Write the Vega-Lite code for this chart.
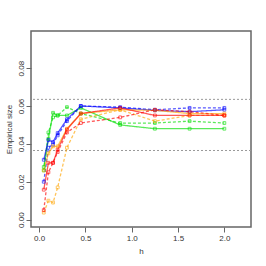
{
  "$schema": "https://vega.github.io/schema/vega-lite/v6.json",
  "width": 220,
  "height": 196,
  "autosize": {"type": "none"},
  "padding": {"left": 31, "top": 31, "right": 15, "bottom": 39},
  "config": {
    "view": {"stroke": "#666", "strokeWidth": 1.5},
    "font": "Liberation Sans",
    "axis": {"labelFont": "Liberation Sans", "titleFont": "Liberation Sans", "labelFontSize": 8, "titleFontSize": 8, "labelColor": "#333", "titleColor": "#333", "titleFontWeight": "normal", "grid": false, "domain": false, "tickColor": "#666", "tickSize": 5}
  },
  "datasets": {
    "d": [
      {"h":0.05,"col":"green","type":"solid","v":0.0278},{"h":0.1,"col":"green","type":"solid","v":0.0427},{"h":0.15,"col":"green","type":"solid","v":0.0564},{"h":0.2,"col":"green","type":"solid","v":0.055},{"h":0.3,"col":"green","type":"solid","v":0.055},{"h":0.45,"col":"green","type":"solid","v":0.059},{"h":0.875,"col":"green","type":"solid","v":0.050},{"h":1.25,"col":"green","type":"solid","v":0.048},{"h":1.625,"col":"green","type":"solid","v":0.048},{"h":2.0,"col":"green","type":"solid","v":0.048},
      {"h":0.05,"col":"green","type":"dashed","v":0.026},{"h":0.1,"col":"green","type":"dashed","v":0.046},{"h":0.15,"col":"green","type":"dashed","v":0.054},{"h":0.2,"col":"green","type":"dashed","v":0.055},{"h":0.3,"col":"green","type":"dashed","v":0.0594},{"h":0.45,"col":"green","type":"dashed","v":0.056},{"h":0.875,"col":"green","type":"dashed","v":0.051},{"h":1.25,"col":"green","type":"dashed","v":0.051},{"h":1.625,"col":"green","type":"dashed","v":0.052},{"h":2.0,"col":"green","type":"dashed","v":0.051},
      {"h":0.05,"col":"blue","type":"solid","v":0.0316},{"h":0.1,"col":"blue","type":"solid","v":0.042},{"h":0.15,"col":"blue","type":"solid","v":0.041},{"h":0.2,"col":"blue","type":"solid","v":0.0457},{"h":0.3,"col":"blue","type":"solid","v":0.053},{"h":0.45,"col":"blue","type":"solid","v":0.060},{"h":0.875,"col":"blue","type":"solid","v":0.059},{"h":1.25,"col":"blue","type":"solid","v":0.0577},{"h":1.625,"col":"blue","type":"solid","v":0.057},{"h":2.0,"col":"blue","type":"solid","v":0.058},
      {"h":0.05,"col":"blue","type":"dashed","v":0.020},{"h":0.1,"col":"blue","type":"dashed","v":0.038},{"h":0.15,"col":"blue","type":"dashed","v":0.0397},{"h":0.2,"col":"blue","type":"dashed","v":0.0445},{"h":0.3,"col":"blue","type":"dashed","v":0.052},{"h":0.45,"col":"blue","type":"dashed","v":0.060},{"h":0.875,"col":"blue","type":"dashed","v":0.0594},{"h":1.25,"col":"blue","type":"dashed","v":0.058},{"h":1.625,"col":"blue","type":"dashed","v":0.059},{"h":2.0,"col":"blue","type":"dashed","v":0.059},
      {"h":0.05,"col":"orange","type":"solid","v":0.026},{"h":0.1,"col":"orange","type":"solid","v":0.035},{"h":0.15,"col":"orange","type":"solid","v":0.0387},{"h":0.2,"col":"orange","type":"solid","v":0.0387},{"h":0.3,"col":"orange","type":"solid","v":0.048},{"h":0.45,"col":"orange","type":"solid","v":0.056},{"h":0.875,"col":"orange","type":"solid","v":0.058},{"h":1.25,"col":"orange","type":"solid","v":0.0577},{"h":1.625,"col":"orange","type":"solid","v":0.056},{"h":2.0,"col":"orange","type":"solid","v":0.056},
      {"h":0.05,"col":"orange","type":"dashed","v":0.0037},{"h":0.1,"col":"orange","type":"dashed","v":0.010},{"h":0.15,"col":"orange","type":"dashed","v":0.009},{"h":0.2,"col":"orange","type":"dashed","v":0.017},{"h":0.3,"col":"orange","type":"dashed","v":0.038},{"h":0.45,"col":"orange","type":"dashed","v":0.053},{"h":0.875,"col":"orange","type":"dashed","v":0.058},{"h":1.25,"col":"orange","type":"dashed","v":0.052},{"h":1.625,"col":"orange","type":"dashed","v":0.055},{"h":2.0,"col":"orange","type":"dashed","v":0.055},
      {"h":0.05,"col":"red","type":"solid","v":0.0158},{"h":0.1,"col":"red","type":"solid","v":0.030},{"h":0.15,"col":"red","type":"solid","v":0.030},{"h":0.2,"col":"red","type":"solid","v":0.037},{"h":0.3,"col":"red","type":"solid","v":0.0476},{"h":0.45,"col":"red","type":"solid","v":0.056},{"h":0.875,"col":"red","type":"solid","v":0.059},{"h":1.25,"col":"red","type":"solid","v":0.055},{"h":1.625,"col":"red","type":"solid","v":0.055},{"h":2.0,"col":"red","type":"solid","v":0.055},
      {"h":0.05,"col":"red","type":"dashed","v":0.005},{"h":0.1,"col":"red","type":"dashed","v":0.025},{"h":0.15,"col":"red","type":"dashed","v":0.030},{"h":0.2,"col":"red","type":"dashed","v":0.0357},{"h":0.3,"col":"red","type":"dashed","v":0.046},{"h":0.45,"col":"red","type":"dashed","v":0.051},{"h":0.875,"col":"red","type":"dashed","v":0.054},{"h":1.25,"col":"red","type":"dashed","v":0.058},{"h":1.625,"col":"red","type":"dashed","v":0.057},{"h":2.0,"col":"red","type":"dashed","v":0.055}
    ],
    "bands": [{"y": 0.0365}, {"y": 0.0635}]
  },
  "layer": [
    {
      "data": {"name": "bands"},
      "mark": {"type": "rule", "color": "#999", "strokeDash": [2, 2], "strokeWidth": 1},
      "encoding": {"y": {"field": "y", "type": "quantitative", "scale": {"domain": [-0.0039, 0.0996], "nice": false, "zero": false}}}
    },
    {
      "data": {"name": "d"},
      "mark": {"type": "line", "strokeWidth": 1.3, "opacity": 0.65, "clip": true},
      "encoding": {
        "x": {"field": "h", "type": "quantitative", "title": "h", "scale": {"domain": [-0.088, 2.288], "nice": false, "zero": false}, "axis": {"values": [0, 0.5, 1, 1.5, 2], "format": ".1f", "labelPadding": 2, "titlePadding": 5}},
        "y": {"field": "v", "type": "quantitative", "title": "Empirical size", "scale": {"domain": [-0.0039, 0.0996], "nice": false, "zero": false}, "axis": {"values": [0, 0.02, 0.04, 0.06, 0.08], "format": ".2f", "labelAngle": -90, "labelAlign": "center", "labelBaseline": "bottom", "labelPadding": 1, "titlePadding": 4}},
        "color": {"field": "col", "type": "nominal", "scale": {"domain": ["green", "blue", "orange", "red"], "range": ["#00DD00", "#0000FF", "#FFA500", "#FF0000"]}, "legend": null},
        "strokeDash": {"field": "type", "type": "nominal", "scale": {"domain": ["solid", "dashed"], "range": [[1, 0], [3, 2]]}, "legend": null},
        "detail": {"field": "type"}
      }
    },
    {
      "data": {"name": "d"},
      "mark": {"type": "point", "shape": "square", "size": 8, "filled": false, "strokeWidth": 1, "opacity": 0.6},
      "encoding": {
        "x": {"field": "h", "type": "quantitative"},
        "y": {"field": "v", "type": "quantitative"},
        "color": {"field": "col", "type": "nominal", "legend": null}
      }
    }
  ]
}
